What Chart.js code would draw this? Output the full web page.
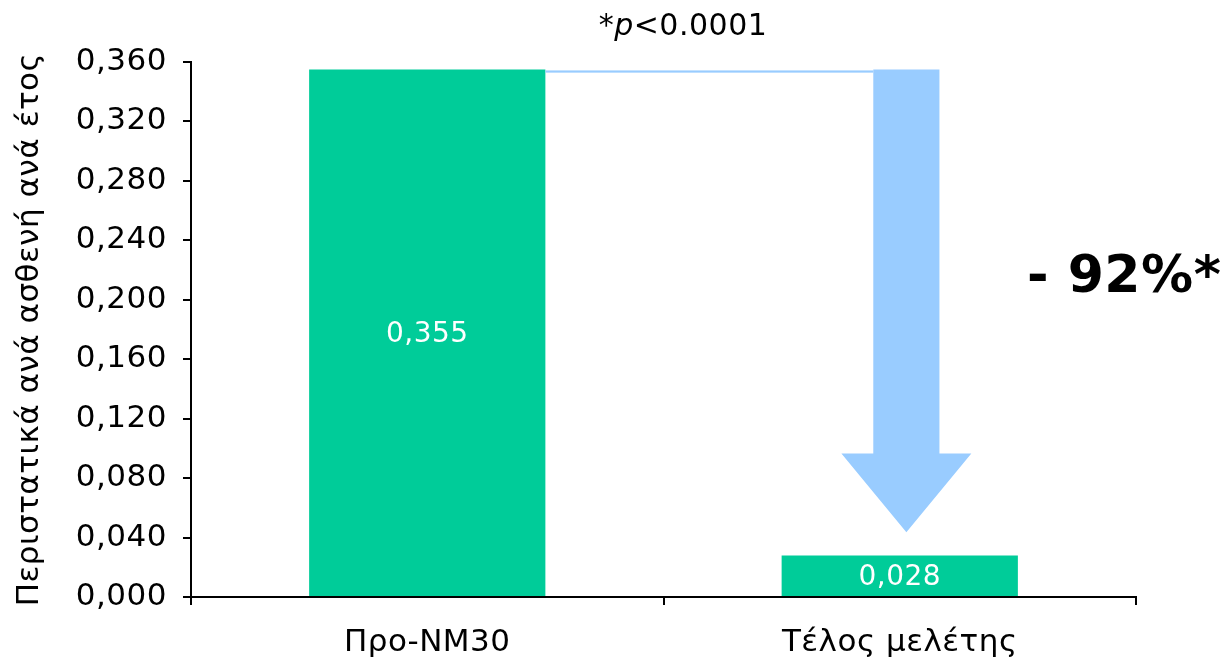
<!DOCTYPE html>
<html>
<head>
<meta charset="utf-8">
<script src="https://cdn.jsdelivr.net/npm/chart.js@4"></script>
<style>
  html, body { margin: 0; padding: 0; background: #fff; }
  #wrap { width: 1230px; height: 663px; }
</style>
</head>
<body>
<div id="wrap"><canvas id="chart" width="1230" height="663"></canvas></div>
<script>
// Episodes per patient per year, before treatment vs. end of study
const categories = ['Προ-ΝΜ30', 'Τέλος μελέτης'];
const rates = [0.355, 0.028];
const yTicks = [0, 0.04, 0.08, 0.12, 0.16, 0.2, 0.24, 0.28, 0.32, 0.36];
const pLabel = 'p<0.0001';
const dropLabel = '- 92%*';

const FONT = 'DejaVu Sans, Verdana, sans-serif';
const GREEN = '#00cc99';
const ARROW = '#99ccff';

const fmt = v => v.toFixed(3).replace('.', ',');

// slightly looser tracking for all text
const tracking = {
  id: 'tracking',
  beforeDraw(chart) { chart.ctx.letterSpacing = '0.5px'; }
};

// Value labels inside the bars
const barLabels = {
  id: 'barLabels',
  afterDatasetsDraw(chart) {
    const ctx = chart.ctx;
    const meta = chart.getDatasetMeta(0);
    ctx.save();
    ctx.fillStyle = '#fff';
    ctx.font = '28px ' + FONT;
    ctx.textAlign = 'center';
    ctx.textBaseline = 'middle';
    meta.data.forEach((bar, i) => {
      ctx.fillText(fmt(rates[i]), bar.x, (bar.y + bar.base) / 2 + 2);
    });
    ctx.restore();
  }
};

// Connector + down arrow from the first bar level to the second bar
const dropArrow = {
  id: 'dropArrow',
  afterDatasetsDraw(chart) {
    const ctx = chart.ctx;
    const y = chart.scales.y;
    const meta = chart.getDatasetMeta(0);
    const b0 = meta.data[0], b1 = meta.data[1];
    const w = b1.width;
    const cx = b1.x + w * 0.028;
    const shaftHalf = w * 0.14;
    const headHalf = w * 0.275;
    const topY = y.getPixelForValue(rates[0]);
    const headY = y.getPixelForValue(0.0965);
    const tipY = y.getPixelForValue(0.0435);

    ctx.save();
    ctx.fillStyle = ARROW;
    // connector line
    ctx.fillRect(b0.x + b0.width / 2, topY + 1, (cx - shaftHalf) - (b0.x + b0.width / 2), 2.2);
    // arrow
    ctx.beginPath();
    ctx.moveTo(cx - shaftHalf, topY);
    ctx.lineTo(cx + shaftHalf, topY);
    ctx.lineTo(cx + shaftHalf, headY);
    ctx.lineTo(cx + headHalf, headY);
    ctx.lineTo(cx, tipY);
    ctx.lineTo(cx - headHalf, headY);
    ctx.lineTo(cx - shaftHalf, headY);
    ctx.closePath();
    ctx.fill();

    // significance note above the chart
    ctx.fillStyle = '#000';
    ctx.textBaseline = 'alphabetic';
    ctx.textAlign = 'left';
    const reg = '30px ' + FONT, ital = 'italic 30px ' + FONT;
    ctx.font = reg;
    const starW = ctx.measureText('*').width;
    const restW = ctx.measureText(pLabel.slice(1)).width;
    ctx.font = ital;
    const pW = ctx.measureText('p').width;
    let x = 683 - (starW + pW + restW) / 2;
    ctx.font = reg;
    ctx.fillText('*', x, 35);
    x += starW;
    ctx.font = ital;
    ctx.fillText('p', x, 35);
    x += pW;
    ctx.font = reg;
    ctx.fillText(pLabel.slice(1), x, 35);

    // percentage change
    ctx.font = 'bold 52px ' + FONT;
    ctx.fillText(dropLabel, 1027, 292);
    ctx.restore();
  }
};

new Chart(document.getElementById('chart'), {
  type: 'bar',
  data: {
    labels: categories,
    datasets: [{
      data: rates,
      backgroundColor: GREEN,
      borderWidth: 0,
      barPercentage: 0.5,
      categoryPercentage: 1.0
    }]
  },
  options: {
    responsive: false,
    animation: false,
    layout: { padding: { top: 62, right: 94, left: 0, bottom: 0 } },
    plugins: { legend: { display: false }, tooltip: { enabled: false } },
    scales: {
      x: {
        afterFit: s => { s.height = 66; },
        border: { color: '#000', width: 2 },
        grid: { drawOnChartArea: false, tickLength: 8, color: '#000', lineWidth: 2 },
        ticks: { color: '#000', font: { family: FONT, size: 31 }, padding: 19 }
      },
      y: {
        min: 0,
        max: 0.36,
        afterFit: s => { s.width = 191; },
        afterBuildTicks: s => { s.ticks = yTicks.map(v => ({ value: v })); },
        border: { color: '#000', width: 2 },
        grid: { drawOnChartArea: false, tickLength: 8, color: '#000', lineWidth: 2 },
        ticks: { color: '#000', font: { family: FONT, size: 31 }, padding: 16, callback: v => fmt(v) },
        title: {
          display: true,
          text: 'Περιστατικά ανά ασθενή ανά έτος',
          color: '#000',
          font: { family: FONT, size: 31 },
          padding: { top: 11, bottom: 0 }
        }
      }
    }
  },
  plugins: [tracking, barLabels, dropArrow]
});
</script>
</body>
</html>
